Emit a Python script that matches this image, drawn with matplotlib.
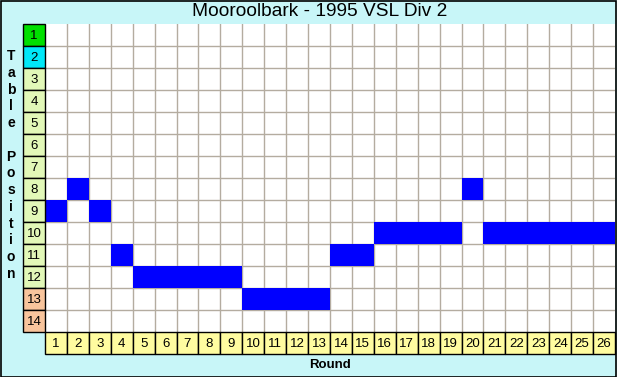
import matplotlib
matplotlib.use("Agg")
import matplotlib.pyplot as plt
from matplotlib.patches import Rectangle

title = "Mooroolbark - 1995 VSL Div 2"
rounds = list(range(1, 27))
positions = [9, 8, 9, 11, 12, 12, 12, 12, 12, 13, 13, 13, 13, 11, 11,
             10, 10, 10, 10, 8, 10, 10, 10, 10, 10, 10]
table_rows = list(range(1, 15))
row_colors = ["#00e000", "#00e8f8"] + ["#e2f8b8"] * 10 + ["#f8c49c"] * 2
x_label = "Round"
y_label = "Table Position"

W, H = 617, 377
fig = plt.figure(figsize=(W / 100, H / 100), dpi=100)
fig.patch.set_facecolor("#c8f6f8")
fig.add_artist(Rectangle((0.5 / W, 0.5 / H), (W - 1.5) / W, (H - 1.5) / H,
                         transform=fig.transFigure, fill=False,
                         edgecolor="black", linewidth=1.2))

left, right, top, bottom = 45, 615, 24, 332
ax = fig.add_axes([left / W, 1 - bottom / H, (right - left) / W, (bottom - top) / H])
ax.set_facecolor("white")
n_cols = len(rounds)
n_rows = len(table_rows)
ax.set_xlim(0.5, n_cols + 0.5)
ax.set_ylim(n_rows + 0.5, 0.5)
for s in ax.spines.values():
    s.set_visible(False)
ax.set_xticks([])
ax.set_yticks([])

grid_c = "#b4aca0"
for i in range(1, n_cols):
    ax.axvline(i + 0.5, color=grid_c, lw=1.0, zorder=1)
for j in range(1, n_rows):
    ax.axhline(j + 0.5, color=grid_c, lw=1.0, zorder=1)

# Position cells
ax.bar(rounds, [1] * n_cols, bottom=[p - 0.5 for p in positions], width=1.0,
       color="#0000ff", edgecolor="none", zorder=3)

# Left row labels
ax.bar([0] * n_rows, [1] * n_rows, bottom=[r - 0.5 for r in table_rows], width=1.0,
       color=row_colors, edgecolor="black", linewidth=1.0, clip_on=False, zorder=4)
for r in table_rows:
    ax.text(0, r + 0.05, str(r), ha="center", va="center", fontsize=9.5,
            family="Liberation Sans", clip_on=False, zorder=5)

# Bottom round labels
ax.bar(rounds, [1] * n_cols, bottom=[n_rows + 0.5] * n_cols, width=1.0,
       color="#fffca0", edgecolor="black", linewidth=1.0, clip_on=False, zorder=4)
for r in rounds:
    ax.text(r, n_rows + 1.05, str(r), ha="center", va="center", fontsize=9.5,
            family="Liberation Sans", clip_on=False, zorder=5)

fig.text(320 / W, 1 - 12 / H, title, ha="center", va="center", fontsize=13.8,
         family="Liberation Sans")
fig.text(330 / W, 1 - 365 / H, x_label, ha="center", va="center", fontsize=9.5,
         family="Liberation Sans", fontweight="bold")

y0, y1 = 56, 274
n_ch = len(y_label)
for k, ch in enumerate(y_label):
    y = y0 + (y1 - y0) * k / (n_ch - 1)
    fig.text(11 / W, 1 - y / H, ch, ha="center", va="center", fontsize=10,
             family="Liberation Sans", fontweight="bold")

fig.savefig("out.png", dpi=100, facecolor=fig.get_facecolor())
